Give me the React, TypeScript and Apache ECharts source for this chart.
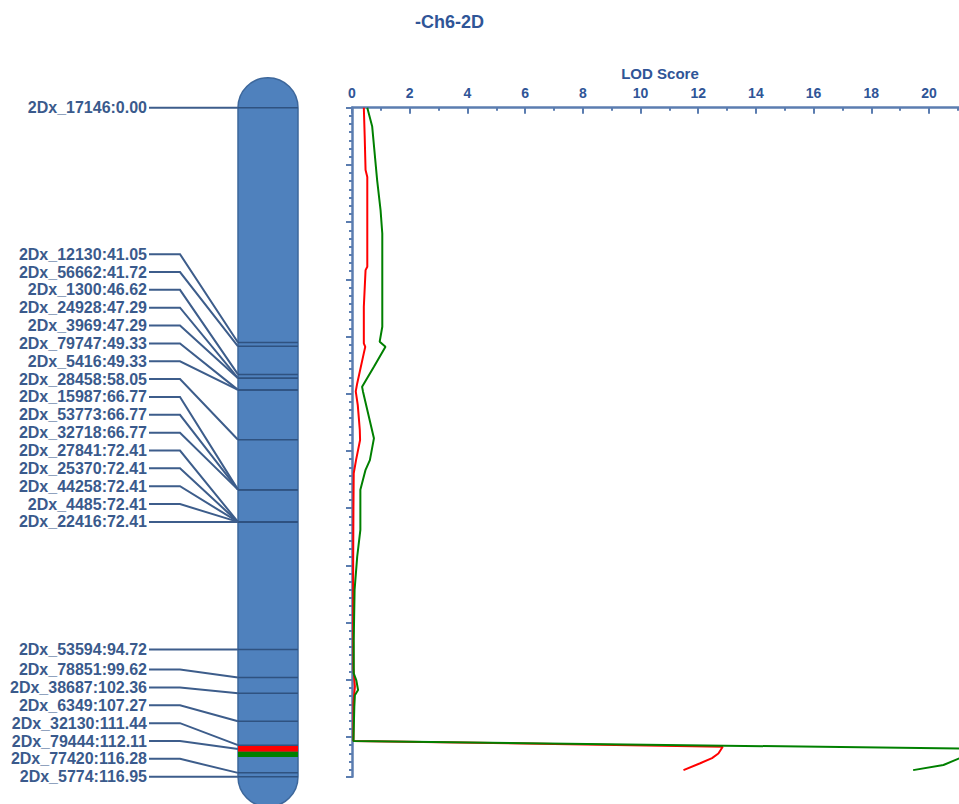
import React, { useEffect, useRef } from "react";
import * as echarts from "echarts";

// ---------- data ----------
const chartTitle = "-Ch6-2D";
const lodAxisName = "LOD Score";

const markerNames = [
  "2Dx_17146", "2Dx_12130", "2Dx_56662", "2Dx_1300", "2Dx_24928", "2Dx_3969",
  "2Dx_79747", "2Dx_5416", "2Dx_28458", "2Dx_15987", "2Dx_53773", "2Dx_32718",
  "2Dx_27841", "2Dx_25370", "2Dx_44258", "2Dx_4485", "2Dx_22416", "2Dx_53594",
  "2Dx_78851", "2Dx_38687", "2Dx_6349", "2Dx_32130", "2Dx_79444", "2Dx_77420",
  "2Dx_5774",
];
const markerPositions = [
  0.0, 41.05, 41.72, 46.62, 47.29, 47.29, 49.33, 49.33, 58.05, 66.77, 66.77,
  66.77, 72.41, 72.41, 72.41, 72.41, 72.41, 94.72, 99.62, 102.36, 107.27,
  111.44, 112.11, 116.28, 116.95,
];
const chromosomeLength = 116.95;

// QTL intervals drawn on the chromosome (cM)
const qtlStarts = [111.6, 112.6];
const qtlEnds = [112.6, 113.5];

// LOD profile, trait 1 (red)
const redPositions = [
  0, 5, 10.9, 12.1, 20, 27.8, 28.4, 34.8, 41.2, 41.8, 42.9, 48.2, 49.6, 52.0,
  56.3, 58.1, 61.6, 63.9, 70, 80, 90, 98, 101.2, 104, 108, 110.7, 111.7, 112.9,
  113.7, 114.6, 115.8,
];
const redLod = [
  0.41, 0.44, 0.47, 0.53, 0.53, 0.53, 0.47, 0.41, 0.41, 0.46, 0.41, 0.18, 0.13,
  0.2, 0.27, 0.28, 0.14, 0.06, 0.05, 0.04, 0.04, 0.05, 0.1, 0.05, 0.05, 0.05,
  12.85, 12.7, 12.48, 12.07, 11.49,
];

// LOD profile, trait 2 (green)
const greenPositions = [
  0, 3.3, 12.6, 17.9, 22.0, 38.3, 40.9, 41.8, 45.3, 48.8, 49.6, 57.8, 61.6, 63.3,
  66.8, 73.8, 78.5, 84.3, 93.1, 98.9, 100.1, 101.8, 102.7, 104.7, 110.7, 112.1,
  113.0, 113.74, 114.9, 115.8,
];
const greenLod = [
  0.53, 0.7, 0.87, 0.99, 1.05, 1.05, 0.96, 1.16, 0.76, 0.35, 0.38, 0.76, 0.62,
  0.47, 0.29, 0.29, 0.18, 0.09, 0.06, 0.06, 0.15, 0.21, 0.1, 0.08, 0.05, 22.0,
  21.6, 21.05, 20.5, 19.45,
];

const lodMin = 0;
const lodMax = 21.35;
const lodInterval = 2;
const cmInterval = 10;

// ---------- styles ----------
const FONT = '"Liberation Sans", Arial, Helvetica, sans-serif';
const AXIS_COLOR = "#5b7db0";
const TEXT_BLUE = "#2f5597";
const LABEL_BLUE = "#3a5a8c";
const LINE_BLUE = "#3d5d8b";
const QTL_COLORS = ["#ff0000", "#008000"];
const LABEL_GAP = 17.85;
const PX_PER_LOD = 28.85;

export default function App() {
  const ref = useRef<HTMLDivElement>(null);

  useEffect(() => {
    if (!ref.current) return;
    const chart = echarts.init(ref.current, null, { renderer: "svg" });

    const renderChromosome = (params: any, api: any) => {
      const xL = api.coord([0, 0])[0];
      const xR = api.coord([1, 0])[0];
      const yTop = api.coord([0, 0])[1];
      const yBot = api.coord([0, chromosomeLength])[1];
      const my = markerPositions.map((p) => api.coord([0, p])[1]);
      const ly: number[] = new Array(my.length);
      for (let i = my.length - 1; i >= 0; i--) {
        ly[i] = i === my.length - 1 ? my[i] : Math.min(my[i], ly[i + 1] - LABEL_GAP);
      }
      const w = xR - xL;
      const cap = w / 2;
      const children: any[] = [];
      children.push({
        type: "rect",
        shape: { x: xL, y: yTop - cap, width: w, height: yBot - yTop + 2 * cap, r: cap },
        style: { fill: "#4f81bd", stroke: "#3d679b", lineWidth: 1.5 },
      });
      my.forEach((y) => {
        children.push({
          type: "line",
          shape: { x1: xL, y1: y, x2: xR, y2: y },
          style: { stroke: "#2f5280", lineWidth: 1.5 },
        });
      });
      qtlStarts.forEach((s, i) => {
        const y1 = api.coord([0, s])[1];
        const y2 = api.coord([0, qtlEnds[i]])[1];
        children.push({
          type: "rect",
          shape: { x: xL, y: y1, width: w, height: y2 - y1 },
          style: { fill: QTL_COLORS[i] },
        });
      });
      my.forEach((y, i) => {
        children.push({
          type: "polyline",
          shape: {
            points: [
              [xL - 89, ly[i]],
              [xL - 58, ly[i]],
              [xL, y],
            ],
          },
          style: { stroke: LINE_BLUE, lineWidth: 2, fill: null },
        });
        children.push({
          type: "text",
          x: xL - 91,
          y: ly[i],
          style: {
            text: `${markerNames[i]}:${markerPositions[i].toFixed(2)}`,
            fill: LABEL_BLUE,
            font: `bold 16px ${FONT}`,
            align: "right",
            verticalAlign: "middle",
          },
        });
      });
      return { type: "group", children };
    };

    const option: any = {
      animation: false,
      backgroundColor: "#ffffff",
      title: {
        text: chartTitle,
        left: 410,
        top: 8,
        textStyle: { fontSize: 18, fontWeight: "bold", color: TEXT_BLUE, fontFamily: FONT },
      },
      grid: [
        {
          left: 352,
          top: 107.7,
          width: (lodMax - lodMin) * PX_PER_LOD,
          height: 669,
          outerBoundsMode: "none",
          containLabel: false,
        },
        { left: 238, top: 107.7, width: 60, height: 669, outerBoundsMode: "none", containLabel: false },
      ],
      xAxis: [
        {
          type: "value",
          gridIndex: 0,
          position: "top",
          min: lodMin,
          max: lodMax,
          interval: lodInterval,
          name: lodAxisName,
          nameLocation: "middle",
          nameGap: 27,
          nameTextStyle: { fontSize: 15, fontWeight: "bold", color: TEXT_BLUE, fontFamily: FONT },
          axisLine: { show: true, lineStyle: { color: AXIS_COLOR, width: 2.5 } },
          axisTick: { show: true, inside: true, length: 6, lineStyle: { color: AXIS_COLOR, width: 2 } },
          minorTick: { show: true, splitNumber: 2, length: 3, lineStyle: { color: AXIS_COLOR, width: 2 } },
          axisLabel: {
            fontSize: 14,
            fontWeight: "bold",
            color: TEXT_BLUE,
            fontFamily: FONT,
            margin: 8,
            showMaxLabel: false,
          },
          splitLine: { show: false },
        },
        { type: "value", gridIndex: 1, min: 0, max: 1, show: false },
      ],
      yAxis: [
        {
          type: "value",
          gridIndex: 0,
          inverse: true,
          min: 0,
          max: chromosomeLength,
          interval: cmInterval,
          axisLine: { show: true, onZero: false, lineStyle: { color: AXIS_COLOR, width: 2.5 } },
          axisTick: { show: true, inside: false, length: 6, lineStyle: { color: AXIS_COLOR, width: 2 } },
          minorTick: { show: true, splitNumber: 7, length: 3, lineStyle: { color: AXIS_COLOR, width: 2 } },
          axisLabel: { show: false },
          splitLine: { show: false },
        },
        { type: "value", gridIndex: 1, inverse: true, min: 0, max: chromosomeLength, show: false },
      ],
      series: [
        {
          type: "custom",
          xAxisIndex: 1,
          yAxisIndex: 1,
          clip: false,
          silent: true,
          renderItem: renderChromosome,
          data: [[0, 0]],
        },
        {
          type: "line",
          xAxisIndex: 0,
          yAxisIndex: 0,
          showSymbol: false,
          symbol: "none",
          clip: true,
          lineStyle: { color: "#ff0000", width: 2 },
          data: redPositions.map((p, i) => [redLod[i], p]),
        },
        {
          type: "line",
          xAxisIndex: 0,
          yAxisIndex: 0,
          showSymbol: false,
          symbol: "none",
          clip: true,
          lineStyle: { color: "#008000", width: 2 },
          data: greenPositions.map((p, i) => [greenLod[i], p]),
        },
      ],
    };

    chart.setOption(option);
    return () => chart.dispose();
  }, []);

  return (
    <div
      ref={ref}
      style={{ position: "fixed", left: 0, top: 0, width: 959, height: 804, background: "#fff" }}
    />
  );
}
